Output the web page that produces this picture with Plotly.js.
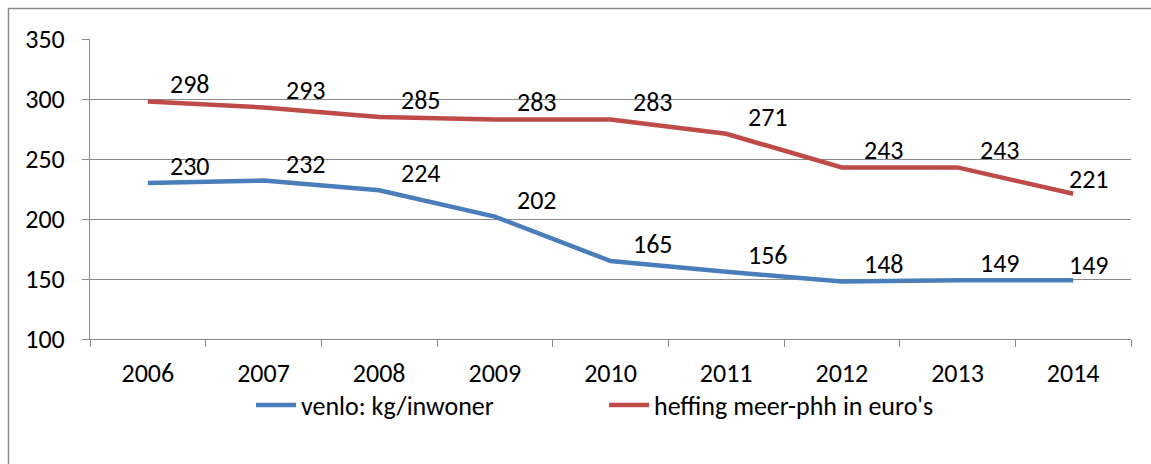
<!DOCTYPE html>
<html>
<head>
<meta charset="utf-8">
<script src="https://cdn.plot.ly/plotly-3.0.1.min.js"></script>
<style>html,body{margin:0;padding:0;background:#fff;}#chart{width:1151px;height:464px;}</style>
</head>
<body>
<div id="chart"></div>
<script>
const years = ['2006','2007','2008','2009','2010','2011','2012','2013','2014'];
const venloKg = [230, 232, 224, 202, 165, 156, 148, 149, 149];
const heffing = [298, 293, 285, 283, 283, 271, 243, 243, 221];
const seriesNames = ['venlo: kg/inwoner', "heffing meer-phh in euro's"];
const yTicks = [100, 150, 200, 250, 300, 350];

const FONT = 'Carlito, Calibri, Lato, sans-serif';
const BLUE = '#4A7EBB';
const RED = '#BE4B48';
const GRID = '#8A8A8A';

const traces = [
  {x: years, y: venloKg, name: seriesNames[0], type: 'scatter', mode: 'lines',
   line: {color: BLUE, width: 4.5}, cliponaxis: false},
  {x: years, y: heffing, name: seriesNames[1], type: 'scatter', mode: 'lines',
   line: {color: RED, width: 4.5}, cliponaxis: false}
];

const annotations = [];
[venloKg, heffing].forEach(function (vals) {
  vals.forEach(function (v, i) {
    const last = i === vals.length - 1;
    annotations.push({
      x: i, y: v, xref: 'x', yref: 'y', text: String(v), showarrow: false,
      xshift: last ? 16 : 42, yshift: last ? 15 : 17,
      font: {family: FONT, size: 26, color: '#000'}
    });
  });
});

const layout = {
  width: 1151, height: 464,
  margin: {l: 90, r: 20, t: 39, b: 125},
  paper_bgcolor: '#fff', plot_bgcolor: '#fff',
  showlegend: true,
  legend: {orientation: 'h', x: (251 - 90) / 1041, xanchor: 'left', y: -0.22, yanchor: 'middle',
           font: {family: FONT, size: 26, color: '#000'}, itemwidth: 40, tracegroupgap: 0,
           entrywidth: 298, entrywidthmode: 'pixels'},
  xaxis: {type: 'category', range: [-0.5, years.length - 0.5], tickson: 'boundaries',
          ticks: 'outside', ticklen: 7,
          tickcolor: GRID, showline: true, linecolor: GRID, linewidth: 1,
          showgrid: false, zeroline: false, tickangle: 0,
          tickfont: {family: FONT, size: 26, color: '#000'}, ticklabelstandoff: 11},
  yaxis: {range: [100, 350], tickvals: yTicks, ticks: 'outside', ticklen: 7,
          tickcolor: GRID, showline: true, linecolor: GRID, linewidth: 1,
          showgrid: true, gridcolor: GRID, gridwidth: 1, zeroline: false,
          tickfont: {family: FONT, size: 26, color: '#000'}, ticklabelstandoff: 12},
  shapes: [{type: 'rect', xref: 'paper', yref: 'paper',
            x0: (8.5 - 90) / 1041, x1: 1.2, y0: -0.6, y1: (339 - 8.5) / 300,
            line: {color: '#8C8C8C', width: 1.5}, fillcolor: 'rgba(0,0,0,0)', layer: 'below'}],
  annotations: annotations
};

Plotly.newPlot('chart', traces, layout, {displayModeBar: false, staticPlot: true});
</script>
</body>
</html>
